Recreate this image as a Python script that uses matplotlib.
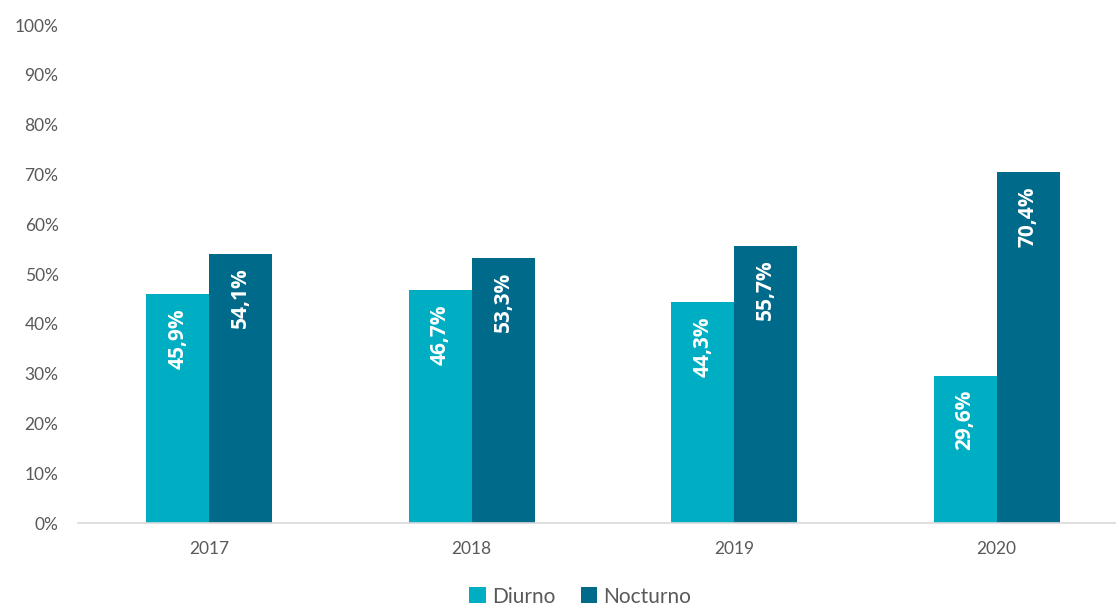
import numpy as np
import matplotlib
matplotlib.use('Agg')
import matplotlib.pyplot as plt

plt.rcParams['font.family'] = ['Lato', 'DejaVu Sans']

# data
years = ['2017', '2018', '2019', '2020']
diurno = [45.9, 46.7, 44.3, 29.6]
nocturno = [54.1, 53.3, 55.7, 70.4]
series_names = ['Diurno', 'Nocturno']
colors = ['#00AEC4', '#006A8B']

fig = plt.figure(figsize=(11.16, 6.10), dpi=100)
ax = fig.add_axes([0.0699, 0.1426, 0.9301, 0.8164])

x = np.arange(len(years))
w = 0.24

bars_d = ax.bar(x - w / 2, diurno, w, color=colors[0], label=series_names[0])
bars_n = ax.bar(x + w / 2, nocturno, w, color=colors[1], label=series_names[1])

for bars, vals in [(bars_d, diurno), (bars_n, nocturno)]:
    for b, v in zip(bars, vals):
        ax.annotate(f'{v:.1f}%'.replace('.', ','),
                    (b.get_x() + b.get_width() / 2, v),
                    xytext=(0, -10), textcoords='offset points',
                    rotation=90, ha='center', va='top',
                    color='white', fontsize=15, fontweight='bold',
                    family=['Open Sans', 'DejaVu Sans'])

ax.set_xlim(-0.5, 3.455)
ax.set_ylim(0, 100)
ax.set_yticks(np.arange(0, 101, 10))
ax.set_yticklabels([f'{t}%' for t in range(0, 101, 10)])
ax.set_xticks(x)
ax.set_xticklabels(years)
ax.tick_params(axis='both', length=0, colors='#595959', labelsize=12.5)
ax.tick_params(axis='y', pad=14)
ax.tick_params(axis='x', pad=13)

for s in ['top', 'right', 'left']:
    ax.spines[s].set_visible(False)
ax.spines['bottom'].set_color('#D9D9D9')
ax.spines['bottom'].set_linewidth(1.2)

leg = fig.legend(loc='center', bbox_to_anchor=(0.52, 0.022), ncol=2, frameon=False,
                 fontsize=15, handlelength=0.8, handleheight=0.8, handletextpad=0.3,
                 columnspacing=1.2, borderpad=0.1)
for t in leg.get_texts():
    t.set_color('#595959')

fig.savefig('out.png', dpi=100)
